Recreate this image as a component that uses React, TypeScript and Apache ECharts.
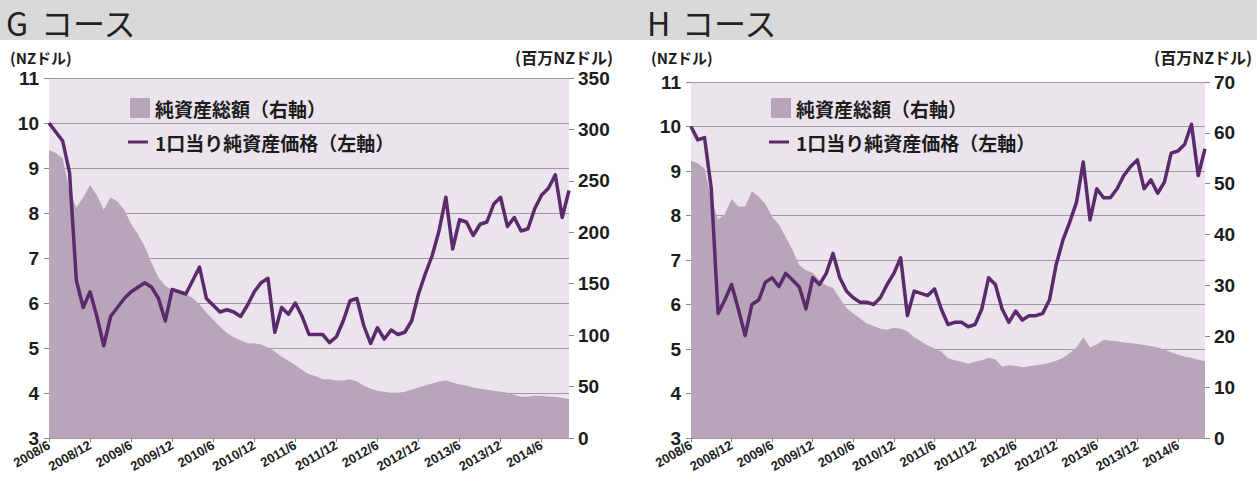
import React, { useEffect, useRef } from "react";
import * as echarts from "echarts";

// Monthly categories 2008/6 .. 2014/10
const CATEGORIES: string[] = [];
for (let y = 2008, m = 6; !(y === 2014 && m === 11); ) {
  CATEGORIES.push(`${y}/${m}`);
  m++;
  if (m > 12) { m = 1; y++; }
}

const TICK_LABELS = [
  "2008/6", "2008/12", "2009/6", "2009/12", "2010/6", "2010/12", "2011/6",
  "2011/12", "2012/6", "2012/12", "2013/6", "2013/12", "2014/6",
];

// G course: NAV per unit (left axis, NZD)
const G_PRICE = [
  10.0, 9.8, 9.6, 8.9, 6.5, 5.9, 6.25, 5.7, 5.05, 5.7,
  5.9, 6.1, 6.25, 6.35, 6.45, 6.35, 6.1, 5.6, 6.3, 6.25,
  6.2, 6.5, 6.8, 6.1, 5.95, 5.8, 5.85, 5.8, 5.7, 5.95,
  6.25, 6.45, 6.55, 5.35, 5.9, 5.75, 6.0, 5.7, 5.3, 5.3,
  5.3, 5.12, 5.25, 5.6, 6.05, 6.1, 5.5, 5.1, 5.45, 5.2,
  5.4, 5.3, 5.35, 5.6, 6.2, 6.65, 7.05, 7.6, 8.35, 7.2,
  7.85, 7.8, 7.5, 7.75, 7.8, 8.2, 8.35, 7.7, 7.9, 7.6,
  7.65, 8.1, 8.4, 8.55, 8.85, 7.9, 8.5,
];
// G course: total net assets (right axis, million NZD)
const G_ASSETS = [
  280, 277, 272, 240, 224, 234, 246, 236, 222, 234,
  230, 222, 208, 198, 186, 170, 156, 148, 144, 142,
  140, 136, 130, 122, 115, 108, 102, 98, 95, 92,
  92, 91, 88, 84, 79, 75, 71, 66, 62, 60,
  57, 57, 56, 56, 57, 55, 51, 48, 46, 45,
  44, 44, 45, 47, 49, 51, 53, 55, 56, 54,
  52, 51, 49, 48, 47, 46, 45, 44, 42, 40,
  40, 41, 41, 40, 40, 39, 38,
];
// H course: NAV per unit (left axis, NZD)
const H_PRICE = [
  10.0, 9.7, 9.75, 8.6, 5.8, 6.1, 6.45, 5.9, 5.3, 6.0,
  6.1, 6.5, 6.6, 6.4, 6.7, 6.55, 6.4, 5.9, 6.6, 6.45,
  6.7, 7.15, 6.6, 6.3, 6.15, 6.05, 6.05, 6.0, 6.15, 6.45,
  6.7, 7.05, 5.75, 6.3, 6.25, 6.2, 6.35, 5.9, 5.55, 5.6,
  5.6, 5.5, 5.55, 5.9, 6.6, 6.45, 5.9, 5.6, 5.85, 5.65,
  5.75, 5.75, 5.8, 6.1, 6.9, 7.45, 7.85, 8.3, 9.2, 7.9,
  8.6, 8.4, 8.4, 8.6, 8.9, 9.1, 9.25, 8.6, 8.8, 8.5,
  8.75, 9.4, 9.45, 9.6, 10.05, 8.9, 9.5,
];
// H course: total net assets (right axis, million NZD)
const H_ASSETS = [
  54.5, 54, 53, 47, 43, 44, 47, 45.5, 45.5, 48.5,
  47.5, 46, 43.5, 42, 39.5, 37, 34, 33, 32.5, 31,
  30, 29.5, 27.5, 25.5, 24.5, 23.5, 22.5, 22, 21.5, 21.3,
  21.7, 21.5, 21, 19.8, 19, 18.2, 17.6, 17, 15.7, 15.3,
  15, 14.6, 15, 15.3, 15.8, 15.5, 14, 14.3, 14.2, 13.9,
  14.1, 14.3, 14.5, 14.8, 15.2, 15.8, 16.7, 17.8, 19.8, 17.8,
  18.4, 19.3, 19.1, 19, 18.8, 18.7, 18.5, 18.3, 18.1, 17.8,
  17.4, 16.8, 16.4, 16, 15.8, 15.4, 15.1,
];

const LEFT_AXIS = { min: 3, max: 11, interval: 1 };
const G_RIGHT_AXIS = { min: 0, max: 350, interval: 50 };
const H_RIGHT_AXIS = { min: 0, max: 70, interval: 10 };

const TITLES = ["G", "H"];
const LEGEND_AREA = "純資産総額（右軸）";
const LEGEND_LINE = "1口当り純資産価格（左軸）";
const UNIT_LEFT = "(NZドル)";
const UNIT_RIGHT = "(百万NZドル)";

const PLOT_BG = "#ebe4ec";
const AREA_COLOR = "#b9a5ba";
const LINE_COLOR = "#5b2a6c";
const GRID_COLOR = "#9e979d";
const TEXT_COLOR = "#1c1c1c";
const NUM_FONT = "Liberation Sans";
const JP_FONT = "Noto Sans CJK JP";

const isTick = (_i: number, v: string) => TICK_LABELS.includes(v);

export default function App() {
  const ref = useRef<HTMLDivElement>(null);

  useEffect(() => {
    if (!ref.current) return;
    const chart = echarts.init(ref.current, undefined, { renderer: "svg" });

    const grids = [
      { left: 49, top: 78, width: 520, height: 360 },
      { left: 691, top: 82, width: 514, height: 356 },
    ];

    const xAxis = grids.map((_, gi) => ({
      type: "category",
      gridIndex: gi,
      data: CATEGORIES,
      boundaryGap: false,
      axisLine: { show: true, lineStyle: { color: GRID_COLOR, width: 1 } },
      axisTick: { show: true, interval: isTick, length: 4, lineStyle: { color: "#888" } },
      axisLabel: {
        interval: isTick,
        rotate: 30,
        margin: 6,
        fontSize: 13,
        fontWeight: "bold",
        fontFamily: NUM_FONT,
        color: TEXT_COLOR,
      },
      splitLine: { show: false },
    }));

    const rights = [G_RIGHT_AXIS, H_RIGHT_AXIS];
    const yAxis: any[] = [];
    grids.forEach((_, gi) => {
      yAxis.push({
        type: "value",
        gridIndex: gi,
        position: "left",
        ...LEFT_AXIS,
        axisLine: { show: false },
        axisTick: { show: true, length: 5, lineStyle: { color: "#888" } },
        axisLabel: { margin: 10, fontSize: 19, fontWeight: "bold", fontFamily: NUM_FONT, color: TEXT_COLOR },
        splitLine: { show: true, lineStyle: { color: GRID_COLOR, width: 1 } },
      });
      yAxis.push({
        type: "value",
        gridIndex: gi,
        position: "right",
        ...rights[gi],
        axisLine: { show: false },
        axisTick: { show: true, length: 5, lineStyle: { color: "#888" } },
        axisLabel: { margin: 9, fontSize: 19, fontWeight: "bold", fontFamily: NUM_FONT, color: TEXT_COLOR },
        splitLine: { show: false },
      });
    });

    const assets = [G_ASSETS, H_ASSETS];
    const prices = [G_PRICE, H_PRICE];
    const series: any[] = [];
    grids.forEach((_, gi) => {
      series.push({
        type: "line",
        xAxisIndex: gi,
        yAxisIndex: gi * 2 + 1,
        data: assets[gi],
        showSymbol: false,
        lineStyle: { width: 0 },
        areaStyle: { color: AREA_COLOR, opacity: 1 },
        z: 1,
      });
      series.push({
        type: "line",
        xAxisIndex: gi,
        yAxisIndex: gi * 2,
        data: prices[gi],
        showSymbol: false,
        lineStyle: { width: 3.5, color: LINE_COLOR, join: "round" },
        itemStyle: { color: LINE_COLOR },
        z: 3,
      });
    });

    const txt = (text: string, x: number, y: number, font: string, align = "left") => ({
      type: "text",
      x,
      y,
      style: {
        text,
        font,
        fill: TEXT_COLOR,
        textAlign: align,
        textVerticalAlign: "middle",
        align,
        verticalAlign: "middle",
      },
      z: 20,
    });

    const graphic: any[] = [
      { type: "rect", shape: { x: 0, y: 0, width: 1257, height: 40 }, style: { fill: "#d9d9d9" }, z: 0 },
    ];
    const offsets = [0, 641];
    const unitRight = [613, 1252];
    TITLES.forEach((t, gi) => {
      const ox = offsets[gi];
      graphic.push({
        type: "text",
        x: 6 + ox,
        y: 22,
        style: {
          text: `{a|${t}}コース`,
          font: `32px "${JP_FONT}"`,
          fill: "#222",
          textVerticalAlign: "middle",
          verticalAlign: "middle",
          rich: { a: { font: `32px "${JP_FONT}"`, fill: "#222", width: 35 } },
        },
        z: 20,
      });
      graphic.push(txt(UNIT_LEFT, 10 + ox, 57, `bold 15px "${JP_FONT}"`));
      graphic.push(txt(UNIT_RIGHT, unitRight[gi], 57, `bold 16px "${JP_FONT}"`, "right"));
      graphic.push({
        type: "rect",
        shape: { x: 130 + ox, y: 98, width: 20, height: 20 },
        style: { fill: AREA_COLOR },
        z: 20,
      });
      graphic.push(txt(LEGEND_AREA, 155 + ox, 108, `bold 19px "${JP_FONT}"`));
      graphic.push({
        type: "line",
        shape: { x1: 128 + ox, y1: 142, x2: 148 + ox, y2: 142 },
        style: { stroke: LINE_COLOR, lineWidth: 3 },
        z: 20,
      });
      graphic.push(txt(LEGEND_LINE, 155 + ox, 142, `bold 19px "${JP_FONT}"`));
    });

    chart.setOption({
      animation: false,
      backgroundColor: "#ffffff",
      grid: grids.map((g) => ({ ...g, show: true, backgroundColor: PLOT_BG, borderWidth: 0 })),
      xAxis,
      yAxis,
      series,
      graphic,
    });

    return () => chart.dispose();
  }, []);

  return (
    <div
      ref={ref}
      style={{ position: "absolute", left: 0, top: 0, width: 1257, height: 494, background: "#fff" }}
    />
  );
}
